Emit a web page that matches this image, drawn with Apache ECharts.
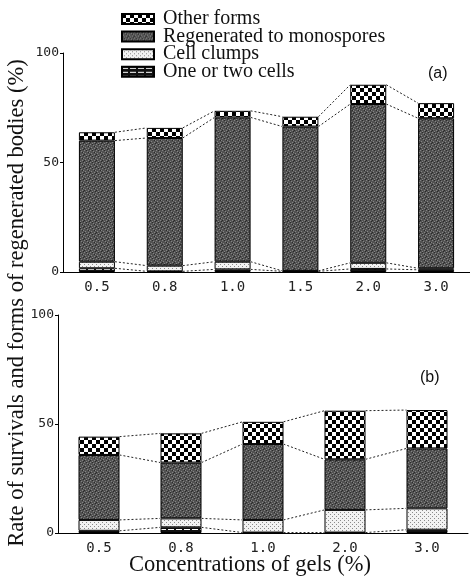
<!DOCTYPE html>
<html>
<head>
<meta charset="utf-8">
<script src="https://cdn.jsdelivr.net/npm/echarts@6/dist/echarts.min.js"></script>
<style>
  html, body { margin: 0; padding: 0; background: #fff; }
  #chart { width: 470px; height: 576px; }
</style>
</head>
<body>
<div id="chart"></div>
<script>
// panel (a)
var catsA = ['0.5', '0.8', '1.0', '1.5', '2.0', '3.0'];
var oneTwoA = [1.7, 0.3, 1.2, 0.3, 1.4, 1.0];
var clumpsA = [3.0, 2.6, 3.5, 0.2, 2.8, 0.7];
var regenA = [55.3, 58.3, 65.9, 65.9, 72.5, 68.5];
var otherA = [3.8, 4.6, 3.0, 4.5, 8.8, 6.9];

// panel (b)
var catsB = ['0.5', '0.8', '1.0', '2.0', '3.0'];
var oneTwoB = [1.0, 2.6, 0.2, 0.2, 1.5];
var clumpsB = [5.0, 4.1, 5.8, 10.4, 9.8];
var regenB = [29.8, 25.6, 34.8, 23.2, 27.5];
var otherB = [8.4, 13.4, 10.2, 22.3, 17.6];

var yTicks = [0, 50, 100];
var names = ['Other forms', 'Regenerated to monospores', 'Cell clumps', 'One or two cells'];

function makePattern(w, h, draw) {
	var c = document.createElement('canvas');
	c.width = w; c.height = h;
	draw(c.getContext('2d'));
	return { image: c, repeat: 'repeat' };
}

var checker = makePattern(8, 8, function (ctx) {
	ctx.fillStyle = '#fff'; ctx.fillRect(0, 0, 8, 8);
	ctx.fillStyle = '#000';
	ctx.fillRect(0, 0, 4, 4); ctx.fillRect(4, 4, 4, 4);
});
var darkGrey = makePattern(6, 6, function (ctx) {
	ctx.fillStyle = '#525252'; ctx.fillRect(0, 0, 6, 6);
	ctx.fillStyle = '#858585';
	[[0, 0], [3, 1], [1, 3], [4, 4], [5, 2], [2, 5]].forEach(function (p) { ctx.fillRect(p[0], p[1], 1, 1); });
	ctx.fillStyle = '#2a2a2a';
	[[2, 0], [5, 5], [0, 4], [4, 2]].forEach(function (p) { ctx.fillRect(p[0], p[1], 1, 1); });
});
var stipple = makePattern(4, 4, function (ctx) {
	ctx.fillStyle = '#f2f2f2'; ctx.fillRect(0, 0, 4, 4);
	ctx.fillStyle = '#8a8a8a';
	ctx.fillRect(0, 0, 1, 1); ctx.fillRect(2, 2, 1, 1);
});
var brick = makePattern(8, 4, function (ctx) {
	ctx.fillStyle = '#111'; ctx.fillRect(0, 0, 8, 4);
	ctx.fillStyle = '#fff';
	ctx.fillRect(0, 1, 6, 1);
});
var fills = [checker, darkGrey, stipple, brick];

function cumulate(layers) {
	var out = [], sum = layers[0].map(function () { return 0; });
	layers.forEach(function (l) {
		sum = sum.map(function (s, i) { return s + l[i]; });
		out.push(sum.slice());
	});
	return out;
}

function connectors(layers) {
	var data = [];
	cumulate(layers).forEach(function (c) {
		for (var i = 0; i < c.length - 1; i++) data.push([i, c[i], c[i + 1]]);
	});
	return data;
}

function connectorRender(barW) {
	return function (params, api) {
		var p1 = api.coord([api.value(0), api.value(1)]);
		var p2 = api.coord([api.value(0) + 1, api.value(2)]);
		return {
			type: 'line',
			shape: { x1: p1[0] + barW / 2, y1: p1[1], x2: p2[0] - barW / 2, y2: p2[1] },
			style: { stroke: '#222', lineWidth: 1, lineDash: [2, 2] }
		};
	};
}

function barSeries(idx, stack, layers, barW) {
	// layers in bottom-to-top order: one/two, clumps, regen, other
	var order = [3, 2, 1, 0];
	return layers.map(function (vals, k) {
		var n = order[k];
		return {
			name: names[n], type: 'bar', stack: stack,
			xAxisIndex: idx, yAxisIndex: idx,
			data: vals, barWidth: barW,
			itemStyle: { color: fills[n], borderColor: '#000', borderWidth: 1 }
		};
	});
}

var layersA = [oneTwoA, clumpsA, regenA, otherA];
var layersB = [oneTwoB, clumpsB, regenB, otherB];

function xAxisCfg(idx, cats) {
	return {
		type: 'category', gridIndex: idx, data: cats,
		axisLine: { lineStyle: { color: '#000', width: 1 } },
		axisTick: { show: false },
		axisLabel: { fontFamily: 'DejaVu Sans Mono', fontSize: 14, color: '#222', margin: 8 }
	};
}
function yAxisCfg(idx) {
	return {
		type: 'value', gridIndex: idx, min: yTicks[0], max: yTicks[yTicks.length - 1], interval: 50,
		splitLine: { show: false },
		axisLine: { show: true, lineStyle: { color: '#000', width: 1 } },
		axisTick: { show: true, length: 3, lineStyle: { color: '#000' } },
		axisLabel: { fontFamily: 'DejaVu Sans Mono', fontSize: 13, color: '#222', margin: 4 }
	};
}

var chart = echarts.init(document.getElementById('chart'));
chart.setOption({
	animation: false,
	grid: [
		{ left: 63, top: 53, width: 412, height: 219 },
		{ left: 58, top: 315, width: 410, height: 218 }
	],
	legend: {
		data: names, orient: 'vertical', left: 116, top: 4,
		itemWidth: 32, itemHeight: 10, itemGap: -2.4, icon: 'rect',
		textStyle: { fontFamily: 'Liberation Serif', fontSize: 20, lineHeight: 17, color: '#111', padding: [0, 0, 0, 4] }
	},
	xAxis: [xAxisCfg(0, catsA), xAxisCfg(1, catsB)],
	yAxis: [yAxisCfg(0), yAxisCfg(1)],
	graphic: [
		{ type: 'text', left: 428, top: 66, style: { text: '(a)', font: '16px "Liberation Sans"', fill: '#111' } },
		{ type: 'text', left: 420, top: 370, style: { text: '(b)', font: '16px "Liberation Sans"', fill: '#111' } },
		{ type: 'text', x: 250, y: 565, style: { text: 'Concentrations of gels (%)', font: '22.5px "Liberation Serif"', fill: '#111', align: 'center', verticalAlign: 'middle' } },
		{ type: 'text', x: 17, y: 303, rotation: Math.PI / 2,
			style: { text: 'Rate of survivals and forms of regenerated bodies (%)', font: '22.5px "Liberation Serif"', fill: '#111', align: 'center', verticalAlign: 'middle' } }
	],
	series: [].concat(
		barSeries(0, 'a', layersA, 36),
		barSeries(1, 'b', layersB, 41),
		[
			{ type: 'custom', xAxisIndex: 0, yAxisIndex: 0, data: connectors(layersA), renderItem: connectorRender(36), encode: { x: 0, y: [1, 2] }, silent: true },
			{ type: 'custom', xAxisIndex: 1, yAxisIndex: 1, data: connectors(layersB), renderItem: connectorRender(41), encode: { x: 0, y: [1, 2] }, silent: true }
		]
	)
});
</script>
</body>
</html>
